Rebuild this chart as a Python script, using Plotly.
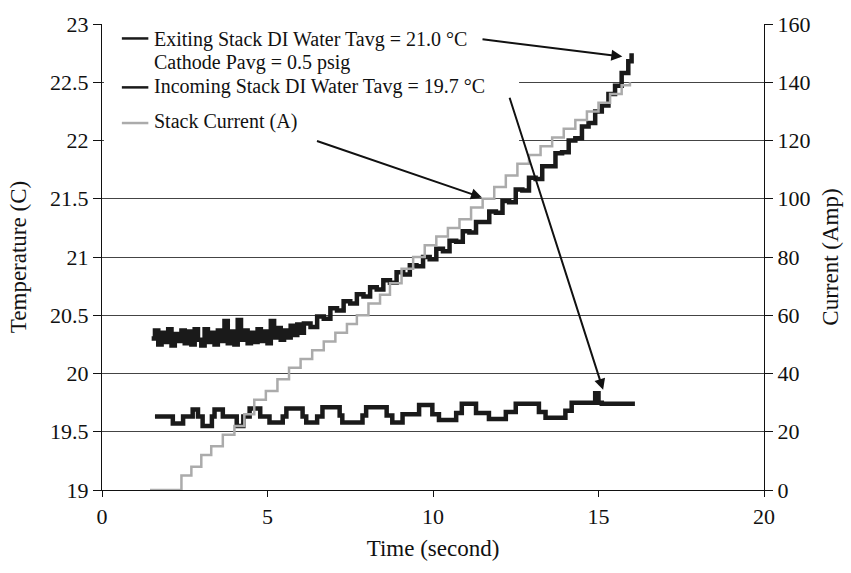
import plotly.graph_objects as go

FONT = "Liberation Serif"

# Stack current (A), stepped ramp
cur_t = [1.45, 2.10, 2.40, 2.70, 3.00, 3.30, 3.65, 4.00, 4.30, 4.60, 4.95, 5.30,
         5.65, 6.00, 6.35, 6.70, 7.05, 7.40, 7.70, 8.05, 8.40, 8.70, 9.05, 9.40,
         9.75, 10.10, 10.45, 10.80, 11.15, 11.50, 11.85, 12.20, 12.55, 12.90,
         13.25, 13.60, 13.95, 14.30, 14.65, 15.00, 15.35, 15.70, 15.95]
cur_I = [0, 0, 5, 8, 12, 15, 19, 22, 26, 31, 34, 38,
         42, 45, 48, 51, 54, 57, 60, 64, 67, 71, 76, 80,
         84, 87, 90, 93, 97, 100, 104, 108, 112, 115,
         118, 121, 124, 127, 130, 133, 136, 139, 140]

# Exiting stack DI water temperature (C)
exit_t = [1.5, 1.6, 1.7, 1.8, 1.9, 2.0, 2.1, 2.2, 2.3, 2.4,
          2.5, 2.6, 2.7, 2.8, 2.9, 3.0, 3.1, 3.2, 3.3, 3.4,
          3.5, 3.6, 3.7, 3.8, 3.9, 4.0, 4.1, 4.2, 4.3, 4.4,
          4.5, 4.6, 4.7, 4.8, 4.9, 5.0, 5.1, 5.2, 5.3, 5.4,
          5.5, 5.6, 5.7, 5.8, 5.9, 6.0,
          6.1, 6.3, 6.5, 6.7, 6.9, 7.1, 7.3, 7.5, 7.7, 7.9,
          8.1, 8.3, 8.5, 8.7, 8.9, 9.1, 9.3, 9.5, 9.7, 9.9,
          10.1, 10.3, 10.5, 10.7, 10.9, 11.1, 11.3, 11.5, 11.7, 11.9,
          12.1, 12.3, 12.5, 12.7, 12.9, 13.1, 13.3, 13.5, 13.7, 13.9,
          14.1, 14.3, 14.5, 14.7, 14.9, 15.1, 15.3, 15.5, 15.7, 15.9, 16.0]
exit_T = [20.30, 20.37, 20.25, 20.35, 20.27, 20.38, 20.24, 20.34, 20.28, 20.37,
          20.26, 20.36, 20.25, 20.38, 20.29, 20.24, 20.38, 20.27, 20.35, 20.25,
          20.37, 20.28, 20.45, 20.26, 20.36, 20.25, 20.46, 20.29, 20.37, 20.26,
          20.35, 20.27, 20.38, 20.28, 20.36, 20.26, 20.45, 20.31, 20.39, 20.29,
          20.37, 20.31, 20.41, 20.33, 20.42, 20.35,
          20.43, 20.40, 20.49, 20.47, 20.56, 20.54, 20.62, 20.60, 20.68, 20.66,
          20.74, 20.72, 20.80, 20.78, 20.87, 20.85, 20.93, 20.92, 21.00, 20.98,
          21.07, 21.05, 21.14, 21.13, 21.22, 21.21, 21.30, 21.30, 21.39, 21.38,
          21.48, 21.47, 21.58, 21.57, 21.68, 21.67, 21.78, 21.78, 21.89, 21.90,
          22.00, 22.02, 22.12, 22.15, 22.25, 22.30, 22.40, 22.47, 22.58, 22.68, 22.75]

# Incoming stack DI water temperature (C)
in_t = [1.60, 2.14, 2.45, 2.74, 2.90, 3.04, 3.32, 3.40, 3.65, 4.07, 4.27, 4.46,
        4.78, 5.06, 5.46, 5.57, 6.06, 6.17, 6.50, 6.66, 7.18, 7.26, 7.87, 7.98,
        8.60, 8.77, 9.08, 9.58, 9.98, 10.18, 10.70, 10.87, 11.30, 11.69, 12.20,
        12.50, 13.20, 13.40, 14.00, 14.19, 14.90, 15.00, 15.10, 16.10]
in_T = [19.63, 19.57, 19.63, 19.69, 19.63, 19.55, 19.63, 19.69, 19.63, 19.55, 19.63, 19.70,
        19.63, 19.58, 19.63, 19.70, 19.63, 19.58, 19.63, 19.71, 19.64, 19.58, 19.64, 19.71,
        19.64, 19.58, 19.65, 19.73, 19.65, 19.60, 19.66, 19.74, 19.66, 19.61, 19.67,
        19.74, 19.67, 19.62, 19.68, 19.75, 19.83, 19.75, 19.74, 19.74]

legend_lines = [
    "Exiting Stack DI Water Tavg = 21.0 °C",
    "Cathode Pavg = 0.5 psig",
    "Incoming Stack DI Water Tavg = 19.7 °C",
    "Stack Current (A)",
]

fig = go.Figure()

fig.add_trace(go.Scatter(x=cur_t, y=cur_I, yaxis="y2", mode="lines",
                         line=dict(color="#ababab", width=2.5, shape="hv"),
                         showlegend=False))
fig.add_trace(go.Scatter(x=exit_t, y=exit_T, mode="lines",
                         line=dict(color="#1a1a1a", width=4.5, shape="hv"),
                         showlegend=False))
fig.add_trace(go.Scatter(x=in_t, y=in_T, mode="lines",
                         line=dict(color="#1a1a1a", width=4.5, shape="hv"),
                         showlegend=False))

# white key box sitting over the gridlines (top border at 23 stays visible)
fig.add_shape(type="rect", xref="x", yref="y", x0=0.06, x1=12.6, y0=21.88, y1=22.985,
              fillcolor="white", line=dict(width=0), layer="between")

# key rows (y in temperature units) and their swatches
key_y = [22.866, 22.666, 22.466, 22.16]
swatches = [(key_y[0] + 0.01, "#1a1a1a"), (key_y[2] - 0.01, "#1a1a1a"), (key_y[3] - 0.01, "#ababab")]
for sy, col in swatches:
    fig.add_shape(type="line", xref="x", yref="y", x0=0.6, x1=1.4, y0=sy, y1=sy,
                  line=dict(color=col, width=2.5))

for txt, yy in zip(legend_lines, key_y):
    fig.add_annotation(x=1.5, y=yy, xref="x", yref="y", text=txt, showarrow=False,
                       xanchor="left", yanchor="middle",
                       font=dict(family=FONT, size=20, color="#111"))

# pointer arrows from the key to the curves
arrows = [
    ((15.72, 22.72), (11.45, 22.87)),
    ((15.14, 19.86), (12.30, 22.38)),
    ((11.48, 21.51), (6.45, 22.00)),
]
for (hx, hy), (tx, ty) in arrows:
    fig.add_annotation(x=hx, y=hy, ax=tx, ay=ty, xref="x", yref="y", axref="x", ayref="y",
                       text="", showarrow=True, arrowhead=2, arrowsize=1.1,
                       arrowwidth=2, arrowcolor="#111", standoff=0, startstandoff=0)

axis_font = dict(family=FONT, size=22, color="#111")
title_font = dict(family=FONT, size=23, color="#111")
fig.update_layout(
    width=851, height=573,
    margin=dict(l=102, r=85, t=20, b=83),
    paper_bgcolor="white", plot_bgcolor="white",
    font=axis_font,
    xaxis=dict(range=[0, 20], tickvals=[0, 5, 10, 15, 20], showgrid=False, zeroline=False,
               showline=True, linecolor="#111", linewidth=1.3, mirror=False,
               ticks="outside", ticklen=6, tickcolor="#111", tickfont=axis_font,
               title=dict(text="Time (second)", font=title_font, standoff=12)),
    yaxis=dict(range=[19, 23], tickvals=[19, 19.5, 20, 20.5, 21, 21.5, 22, 22.5, 23],
               ticktext=["19", "19.5", "20", "20.5", "21", "21.5", "22", "22.5", "23"],
               showgrid=True, gridcolor="#444444", gridwidth=1.3, zeroline=False,
               showline=True, linecolor="#111", linewidth=1.3,
               ticks="outside", ticklen=8, tickcolor="#111", tickfont=axis_font,
               title=dict(text="Temperature (C)", font=title_font, standoff=16)),
    yaxis2=dict(range=[0, 160], tickvals=[0, 20, 40, 60, 80, 100, 120, 140, 160],
                overlaying="y", side="right", showgrid=False, zeroline=False,
                showline=True, linecolor="#111", linewidth=1.3,
                ticks="outside", ticklen=8, tickcolor="#111", tickfont=axis_font,
                title=dict(text="Current (Amp)", font=title_font, standoff=12)),
)

fig.write_html("out.html")
